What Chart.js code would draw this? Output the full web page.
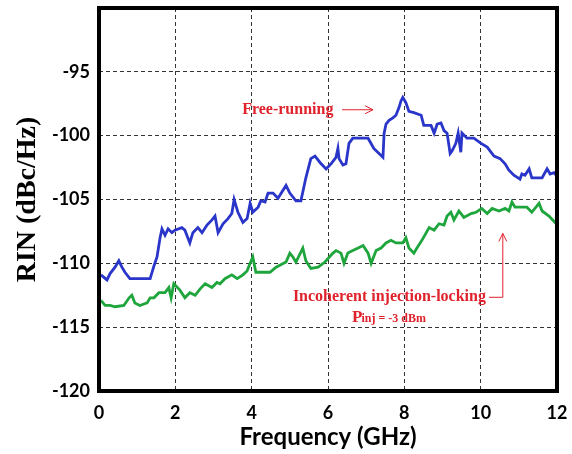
<!DOCTYPE html>
<html>
<head>
<meta charset="utf-8">
<script src="https://cdn.jsdelivr.net/npm/chart.js"></script>
<style>
  html, body { margin: 0; padding: 0; background: #fff; }
  #wrap { width: 572px; height: 454px; }
</style>
</head>
<body>
<div id="wrap"><canvas id="rin-chart"></canvas></div>
<script>
// free-running curve (GHz, dBc/Hz)
var blueFreq = [0.05,0.21,0.29,0.42,0.52,0.60,0.68,0.81,1.34,1.44,1.52,1.60,1.65,1.73,1.81,1.91,1.99,2.17,2.25,2.38,2.46,2.59,2.70,2.83,2.96,3.04,3.12,3.25,3.38,3.48,3.54,3.64,3.77,3.88,3.96,4.03,4.17,4.24,4.35,4.43,4.56,4.69,4.90,5.00,5.16,5.29,5.42,5.55,5.66,5.79,5.95,6.08,6.21,6.26,6.29,6.39,6.47,6.55,6.65,7.05,7.20,7.44,7.47,7.52,7.60,7.70,7.78,7.86,7.91,7.96,8.04,8.12,8.25,8.44,8.51,8.70,8.78,8.86,8.96,9.04,9.12,9.20,9.25,9.35,9.41,9.48,9.51,9.64,9.82,10.01,10.17,10.35,10.51,10.64,10.74,10.87,11.03,11.08,11.16,11.27,11.34,11.61,11.74,11.82,11.92,11.98];
var blueRin = [-110.9,-111.3,-110.8,-110.3,-109.8,-110.3,-110.7,-111.2,-111.2,-110.2,-109.5,-108.0,-107.3,-107.8,-107.3,-107.6,-107.4,-107.2,-107.4,-108.4,-107.6,-107.2,-107.6,-107.0,-106.6,-106.3,-107.6,-106.9,-106.5,-106.1,-105.0,-106.0,-106.8,-106.5,-105.3,-106.0,-105.6,-105.1,-105.2,-104.5,-104.5,-104.9,-103.9,-104.5,-105.1,-105.1,-103.3,-101.8,-101.6,-102.1,-102.6,-102.2,-101.7,-101.0,-101.8,-102.3,-102.2,-100.6,-100.2,-100.2,-101.0,-101.7,-99.8,-99.1,-98.8,-98.6,-98.4,-97.8,-97.3,-97.0,-97.4,-98.1,-98.2,-98.4,-99.2,-99.2,-99.8,-99.1,-99.0,-99.6,-99.8,-101.4,-101.2,-100.6,-99.8,-101.3,-99.8,-100.2,-100.2,-100.6,-100.9,-101.6,-101.8,-102.2,-102.7,-103.1,-103.4,-103.0,-103.1,-102.6,-103.3,-103.3,-102.6,-103.0,-102.9,-103.1];

// incoherent injection-locking curve
var greenFreq = [0.05,0.16,0.29,0.42,0.65,0.79,0.86,0.94,1.07,1.26,1.34,1.44,1.57,1.73,1.83,1.89,1.96,2.12,2.25,2.38,2.52,2.65,2.78,2.96,3.09,3.17,3.30,3.48,3.62,3.77,3.88,3.96,4.03,4.11,4.48,4.64,4.90,5.00,5.08,5.16,5.34,5.42,5.55,5.74,5.92,6.13,6.21,6.34,6.42,6.52,6.65,6.79,6.92,7.05,7.13,7.26,7.39,7.52,7.65,7.78,7.96,8.04,8.12,8.25,8.33,8.46,8.65,8.78,8.91,9.04,9.12,9.22,9.30,9.43,9.56,9.75,9.88,10.03,10.17,10.30,10.48,10.64,10.74,10.82,10.90,11.21,11.34,11.53,11.61,11.79,11.98];
var greenRin = [-112.9,-113.3,-113.3,-113.4,-113.3,-112.7,-112.5,-113.1,-113.3,-113.1,-112.7,-112.7,-112.3,-112.3,-111.9,-112.7,-111.6,-112.1,-112.7,-112.3,-112.5,-112.0,-111.6,-111.9,-111.5,-111.6,-111.2,-110.9,-111.2,-110.9,-110.6,-110.0,-109.5,-110.7,-110.7,-110.3,-109.9,-109.2,-109.5,-109.9,-108.8,-109.8,-110.4,-110.3,-109.9,-109.2,-109.0,-109.2,-110.0,-109.2,-109.0,-108.8,-108.6,-109.2,-110.0,-109.0,-108.8,-108.4,-108.2,-108.4,-108.4,-108.0,-108.8,-109.2,-108.8,-108.2,-107.2,-107.4,-106.9,-107.0,-106.3,-106.0,-106.6,-105.9,-106.4,-106.1,-106.0,-105.7,-106.1,-105.7,-105.9,-105.7,-105.9,-105.2,-105.6,-105.6,-106.0,-105.3,-105.9,-106.3,-106.9];

var xTicks = [0, 2, 4, 6, 8, 10, 12];
var yTicks = [-120, -115, -110, -105, -100, -95, -90];

function toPoints(xs, ys) {
    var pts = [];
    for (var i = 0; i < xs.length; i++) {
        pts.push({x: xs[i], y: ys[i]});
    }
    return pts;
}

var red = '#e0222c';

// frame + red annotations
var extras = {
    id: 'extras',
    afterDatasetsDraw: function(chart) {
        var ctx = chart.ctx;
        var a = chart.chartArea;
        var sx = chart.scales.x, sy = chart.scales.y;
        ctx.save();

        ctx.strokeStyle = '#000';
        ctx.lineWidth = 4;
        ctx.strokeRect(a.left, a.top, a.right - a.left, a.bottom - a.top);

        ctx.fillStyle = red;
        ctx.strokeStyle = red;
        ctx.lineWidth = 1;
        ctx.textBaseline = 'middle';

        ctx.font = 'bold 16px "Liberation Serif"';
        ctx.fillText('Free-running', sx.getPixelForValue(3.75), sy.getPixelForValue(-97.97));

        // arrow right
        var y1 = sy.getPixelForValue(-97.97);
        var x1 = sx.getPixelForValue(6.37), x2 = sx.getPixelForValue(7.18);
        ctx.beginPath();
        ctx.moveTo(x1, y1); ctx.lineTo(x2, y1);
        ctx.moveTo(x2 - 8, y1 - 4); ctx.lineTo(x2, y1); ctx.lineTo(x2 - 8, y1 + 4);
        ctx.stroke();

        ctx.font = 'bold 16px "Liberation Serif"';
        var lx = sx.getPixelForValue(5.08), ly = sy.getPixelForValue(-112.66);
        ctx.fillText('Incoherent injection-locking', lx, ly, sx.getPixelForValue(10.14) - lx);

        ctx.textBaseline = 'alphabetic';
        var px = sx.getPixelForValue(6.63), py = sy.getPixelForValue(-114.6);
        ctx.font = 'bold 17px "Liberation Serif"';
        ctx.fillText('P', px, py);
        var pw = ctx.measureText('P').width;
        ctx.font = 'bold 12px "Liberation Serif"';
        ctx.fillText('inj = -3 dBm', px + pw - 1, py);

        // elbow arrow up
        var hx1 = sx.getPixelForValue(10.22), hx2 = sx.getPixelForValue(10.58);
        var ty = sy.getPixelForValue(-107.66);
        ctx.beginPath();
        ctx.moveTo(hx1, ly); ctx.lineTo(hx2, ly); ctx.lineTo(hx2, ty);
        ctx.moveTo(hx2 - 4, ty + 8); ctx.lineTo(hx2, ty); ctx.lineTo(hx2 + 4, ty + 8);
        ctx.stroke();

        ctx.restore();
    }
};

new Chart(document.getElementById('rin-chart'), {
    type: 'scatter',
    data: {
        datasets: [{
            label: 'Free-running',
            data: toPoints(blueFreq, blueRin),
            showLine: true,
            borderColor: '#2a35c9',
            borderWidth: 2.8,
            pointRadius: 0,
            tension: 0
        }, {
            label: 'Incoherent injection-locking',
            data: toPoints(greenFreq, greenRin),
            showLine: true,
            borderColor: '#1ea53c',
            borderWidth: 2.8,
            pointRadius: 0,
            tension: 0
        }]
    },
    options: {
        responsive: true,
        maintainAspectRatio: false,
        animation: false,
        layout: { padding: { top: 8, right: 15, left: 0, bottom: 0 } },
        plugins: {
            legend: { display: false },
            tooltip: { enabled: false }
        },
        scales: {
            x: {
                type: 'linear',
                min: 0,
                max: 12,
                afterBuildTicks: function(s) { s.ticks = xTicks.map(function(v) { return {value: v}; }); },
                afterFit: function(s) { s.height = 63; s.paddingLeft = 0; s.paddingRight = 0; },
                ticks: {
                    color: '#000',
                    padding: 11,
                    font: { family: 'Lato', size: 18, weight: 'bold' }
                },
                grid: { color: '#333', lineWidth: 1, drawTicks: false },
                border: { display: false, dash: [4, 3] },
                title: {
                    display: true,
                    text: 'Frequency (GHz)',
                    color: '#000',
                    padding: { top: 0, bottom: 2 },
                    font: { family: 'Lato', size: 24, weight: 'bold' }
                }
            },
            y: {
                min: -120,
                max: -90,
                afterBuildTicks: function(s) { s.ticks = yTicks.map(function(v) { return {value: v}; }); },
                afterFit: function(s) { s.width = 99; s.paddingTop = 0; s.paddingBottom = 0; },
                ticks: {
                    color: '#000',
                    padding: 9,
                    font: { family: 'Lato', size: 18, weight: 'bold' },
                    callback: function(v) { return v === -90 ? '' : v; }
                },
                grid: { color: '#333', lineWidth: 1, drawTicks: false },
                border: { display: false, dash: [4, 3] },
                title: {
                    display: true,
                    text: 'RIN (dBc/Hz)',
                    color: '#000',
                    padding: { top: 11, bottom: 0 },
                    font: { family: 'Liberation Serif', size: 28, weight: 'bold' }
                }
            }
        }
    },
    plugins: [extras]
});
</script>
</body>
</html>
